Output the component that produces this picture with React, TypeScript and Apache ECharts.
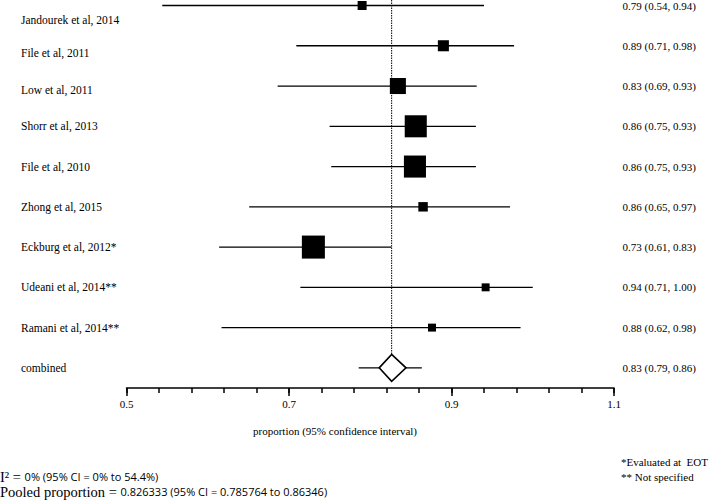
import React, { useEffect, useRef } from "react";
import * as echarts from "echarts";

const STUDIES = [
  "Jandourek et al, 2014",
  "File et al, 2011",
  "Low et al, 2011",
  "Shorr et al, 2013",
  "File et al, 2010",
  "Zhong et al, 2015",
  "Eckburg et al, 2012*",
  "Udeani et al, 2014**",
  "Ramani et al, 2014**",
  "combined",
];
const ESTIMATES = [0.79, 0.89, 0.834, 0.856, 0.855, 0.865, 0.73, 0.942, 0.876];
const LOWER = [0.544, 0.709, 0.686, 0.75, 0.752, 0.651, 0.614, 0.714, 0.617];
const UPPER = [0.94, 0.977, 0.931, 0.93, 0.93, 0.972, 0.826, 1.0, 0.985];
const WEIGHTS = [3.7, 5.6, 11.8, 22.3, 22.3, 4.1, 24.3, 2.9, 2.9];
const RIGHT_TEXT = [
  "0.79 (0.54, 0.94)",
  "0.89 (0.71, 0.98)",
  "0.83 (0.69, 0.93)",
  "0.86 (0.75, 0.93)",
  "0.86 (0.75, 0.93)",
  "0.86 (0.65, 0.97)",
  "0.73 (0.61, 0.83)",
  "0.94 (0.71, 1.00)",
  "0.88 (0.62, 0.98)",
  "0.83 (0.79, 0.86)",
];
const POOLED = 0.826333;
const POOLED_LO = 0.785764;
const POOLED_HI = 0.86346;
const DIAMOND_LO = 0.811;
const DIAMOND_HI = 0.844;
const TICK_VALUES = ["0.5", "0.54", "0.58", "0.62", "0.66", "0.7", "0.74", "0.78", "0.82", "0.86", "0.9", "0.94", "0.98", "1.02", "1.06", "1.1"];
const MAJOR_TICKS = ["0.5", "0.7", "0.9", "1.1"];
const X_MIN = 0.5;
const X_MAX = 1.1;
const ROW_MIN = 0;
const ROW_MAX = 9.5;

const SERIF = "'Liberation Serif', 'DejaVu Serif', serif";
const SANS = "'Open Sans', 'Liberation Sans', sans-serif";

export default function App() {
  const ref = useRef<HTMLDivElement>(null);
  useEffect(() => {
    if (!ref.current) return;
    const chart = echarts.init(ref.current, null, { renderer: "svg" });
    const gridBox = { left: 126.5, right: 95, top: 4.7, bottom: 112 };
    const studyData = ESTIMATES.map((e, i) => [LOWER[i], UPPER[i], e, i, WEIGHTS[i]]);
    const comboIdx = STUDIES.length - 1;
    const isRow = (v: number) => Number.isInteger(v) && v >= 0 && v < STUDIES.length;
    const option: any = {
      animation: false,
      grid: [{ ...gridBox }, { ...gridBox }],
      xAxis: [
        { type: "value", gridIndex: 0, min: X_MIN, max: X_MAX, position: "top", show: false },
        {
          type: "category",
          gridIndex: 0,
          position: "bottom",
          data: TICK_VALUES,
          boundaryGap: false,
          axisLine: { show: true, onZero: false, lineStyle: { color: "#000", width: 1.5 } },
          axisTick: { show: true, length: 5, interval: 0, lineStyle: { color: "#000", width: 1.5 } },
          axisLabel: { show: false },
          splitLine: { show: false },
        },
        {
          type: "category",
          gridIndex: 1,
          position: "bottom",
          data: MAJOR_TICKS,
          boundaryGap: false,
          axisLine: { show: false, onZero: false },
          axisTick: { show: true, length: 8, interval: 0, lineStyle: { color: "#000", width: 1.5 } },
          axisLabel: { show: true, interval: 0, margin: 10, color: "#000", fontFamily: SERIF, fontSize: 11 },
          splitLine: { show: false },
        },
      ],
      yAxis: [
        {
          type: "value",
          gridIndex: 0,
          position: "left",
          min: ROW_MIN,
          max: ROW_MAX,
          interval: 1,
          inverse: true,
          axisLine: { show: false, onZero: false },
          axisTick: { show: false },
          splitLine: { show: false },
          axisLabel: {
            align: "left",
            margin: 105.5,
            color: "#000",
            fontFamily: SERIF,
            fontSize: 11.5,
            formatter: (v: number) => {
              if (!isRow(v)) return "";
              return v < 3 ? `{o${v}|${STUDIES[v]}}` : `{n|${STUDIES[v]}}`;
            },
            rich: {
              o0: { padding: [29, 0, 0, 0] },
              o1: { padding: [15, 0, 0, 0] },
              o2: { padding: [8, 0, 0, 0] },
              n: {},
            },
          },
        },
        {
          type: "value",
          gridIndex: 0,
          position: "right",
          min: ROW_MIN,
          max: ROW_MAX,
          interval: 1,
          inverse: true,
          axisLine: { show: false, onZero: false },
          axisTick: { show: false },
          splitLine: { show: false },
          axisLabel: {
            align: "left",
            margin: 8.5,
            color: "#000",
            fontFamily: SERIF,
            fontSize: 11,
            formatter: (v: number) => (isRow(v) ? RIGHT_TEXT[v] : ""),
          },
        },
        { type: "value", gridIndex: 1, show: false },
      ],
      series: [
        {
          type: "custom",
          xAxisIndex: 0,
          yAxisIndex: 0,
          data: studyData,
          encode: { x: [0, 1, 2], y: 3 },
          renderItem: (_params: any, api: any) => {
            const row = api.value(3);
            const lo = api.coord([api.value(0), row]);
            const hi = api.coord([api.value(1), row]);
            const c = api.coord([api.value(2), row]);
            const s = 4.67 * Math.sqrt(api.value(4));
            return {
              type: "group",
              children: [
                {
                  type: "line",
                  shape: { x1: lo[0], y1: lo[1], x2: hi[0], y2: hi[1] },
                  style: { stroke: "#000", lineWidth: 1.3 },
                },
                {
                  type: "rect",
                  shape: { x: c[0] - s / 2, y: c[1] - s / 2, width: s, height: s },
                  style: { fill: "#000" },
                },
              ],
            };
          },
        },
        {
          type: "custom",
          xAxisIndex: 0,
          yAxisIndex: 0,
          data: [[POOLED_LO, POOLED_HI, POOLED, comboIdx, DIAMOND_LO, DIAMOND_HI]],
          encode: { x: [0, 1, 2], y: 3 },
          renderItem: (_params: any, api: any) => {
            const row = api.value(3);
            const lo = api.coord([api.value(0), row]);
            const hi = api.coord([api.value(1), row]);
            const c = api.coord([api.value(2), row]);
            const dl = api.coord([api.value(4), row]);
            const dh = api.coord([api.value(5), row]);
            const h = 13.5;
            return {
              type: "group",
              children: [
                {
                  type: "line",
                  shape: { x1: c[0], y1: 0, x2: c[0], y2: c[1] - h },
                  style: { stroke: "#000", lineWidth: 1, lineDash: [1.5, 1] },
                },
                {
                  type: "line",
                  shape: { x1: lo[0], y1: lo[1], x2: hi[0], y2: hi[1] },
                  style: { stroke: "#000", lineWidth: 1.3 },
                },
                {
                  type: "polygon",
                  shape: {
                    points: [
                      [dl[0], c[1]],
                      [c[0], c[1] - h],
                      [dh[0], c[1]],
                      [c[0], c[1] + h],
                    ],
                  },
                  style: { fill: "#fff", stroke: "#000", lineWidth: 1.6 },
                },
              ],
            };
          },
        },
      ],
      graphic: [
        {
          type: "text",
          left: 253,
          top: 425,
          style: { text: "proportion (95% confidence interval)", fontFamily: SERIF, fontSize: 11, fill: "#000" },
        },
        {
          type: "text",
          right: 1,
          top: 456,
          style: { text: "*Evaluated at  EOT", fontFamily: SERIF, fontSize: 11, fill: "#000" },
        },
        {
          type: "text",
          left: 621,
          top: 471,
          style: { text: "** Not specified", fontFamily: SERIF, fontSize: 11, fill: "#000" },
        },
        {
          type: "text",
          left: 0,
          top: 469,
          style: {
            text: "{s|I² = }{b|0% (95% CI = 0% to 54.4%)}",
            rich: {
              s: { fontFamily: SERIF, fontSize: 14.5, fill: "#000" },
              b: { fontFamily: SANS, fontSize: 11, fill: "#000" },
            },
          },
        },
        {
          type: "text",
          left: 0,
          top: 484,
          style: {
            text: "{s|Pooled proportion = }{b|0.826333 (95% CI = 0.785764 to 0.86346)}",
            rich: {
              s: { fontFamily: SERIF, fontSize: 14.5, fill: "#000" },
              b: { fontFamily: SANS, fontSize: 11, fill: "#000" },
            },
          },
        },
      ],
    };
    chart.setOption(option);
    return () => chart.dispose();
  }, []);
  return (
    <div
      ref={ref}
      style={{ position: "absolute", left: 0, top: 0, width: 709, height: 500, background: "#fff" }}
    />
  );
}
